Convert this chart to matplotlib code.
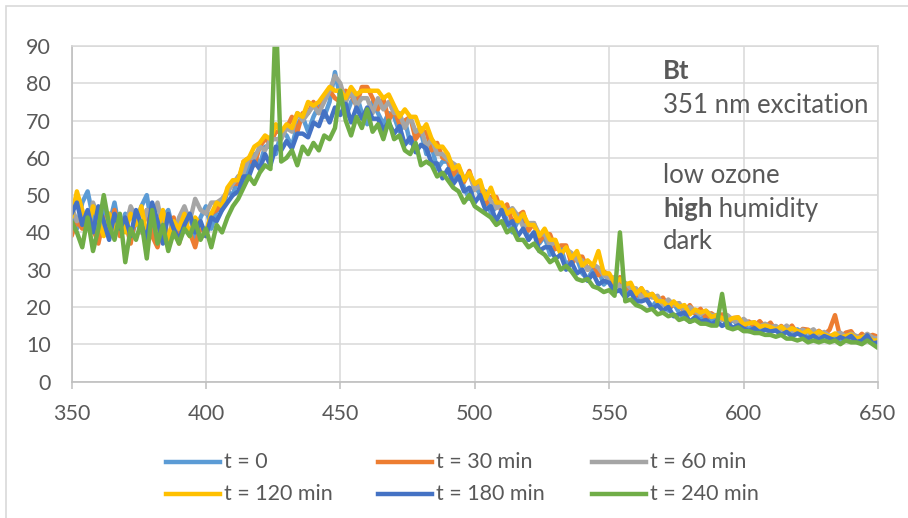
import numpy as np
import matplotlib
matplotlib.use("Agg")
import matplotlib.pyplot as plt
from matplotlib.lines import Line2D
from matplotlib.patches import Rectangle

plt.rcParams['font.family'] = ['Lato', 'DejaVu Sans']

# wavelength grid (nm), 2 nm steps from 350 to 650
wavelength = np.arange(350, 651, 2)

t0 = [46, 41, 48, 51, 44, 39, 46, 42, 48, 40,
      45, 38, 43, 47, 50, 41, 37, 44, 46, 40,
      39, 43, 45, 38, 44, 47, 41, 46, 46, 51,
      50, 55, 53, 58, 61, 58, 63, 63, 61, 67,
      66, 63, 69, 71, 67, 71, 74, 71, 75, 83,
      76, 71, 75, 77, 72, 69, 75, 72, 69, 72,
      71, 67, 70, 64, 66, 67, 61, 63, 57, 59,
      59, 54, 57, 52, 49, 53, 50, 51, 45, 47,
      47, 43, 40, 43, 44, 38, 40, 37, 39, 34,
      36, 36, 31, 33, 33, 29, 27.5, 30, 30, 26,
      27.5, 25, 27, 23.5, 25, 21, 23.5, 22, 20, 22,
      21.5, 19, 21, 18.5, 17, 19, 18.3, 16.5, 18, 16.3,
      17, 17.2, 15, 16.7, 14.9, 15.5, 13.8, 15.6, 13.9, 14.7,
      13.5, 14.8, 13.1, 13.9, 12.2, 14, 12.8, 11.8, 13.2, 11.5,
      13, 11.5, 12.5, 10.9, 13, 11.2, 12, 10.6, 12, 12.2,
      11.5]

t30 = [39, 43, 41, 45, 41, 37, 44, 40, 46, 39,
       43, 37, 45, 40, 46, 39, 36, 43, 38, 44,
       37, 43, 40, 36, 42, 39, 45, 46, 48, 51,
       53, 53, 59, 60, 58, 63, 65, 64, 67, 67,
       68, 71, 67, 72, 72, 75, 72, 76, 78, 76,
       75, 78, 77, 74, 79, 79, 76, 73, 76, 70,
       73, 69, 70, 71, 65, 67, 67, 62, 64, 60,
       59.5, 55.5, 57.5, 53.5, 56.5, 51.5, 53.5, 47.5, 49.5, 49.5,
       45.5, 47.5, 42.5, 44.5, 45.5, 40.5, 42.5, 37.5, 39.5, 39.5,
       35.5, 36.5, 36.5, 31.5, 33.5, 33.5, 30, 31.5, 28.5, 29.5,
       28.5, 26, 28, 24.5, 26, 23, 25, 22, 23.5, 21.5,
       22.5, 20, 20.5, 21, 18.5, 20.5, 18.3, 19.5, 17, 18.3,
       17.3, 18, 15.8, 17, 17.2, 14.8, 16.1, 14.9, 16.2, 14.5,
       15.8, 13.6, 14.9, 13.7, 15, 12.8, 14.1, 13.9, 12.2, 13.6,
       12.5, 13.9, 17.8, 11.7, 13.1, 13.5, 11.4, 12.8, 11.7, 12.5,
       12]

t60 = [47, 43, 45, 41, 48, 44, 40, 45, 41, 44,
       41, 47, 44, 40, 46, 43, 48, 41, 45, 39,
       44, 47, 43, 49, 46, 45, 48, 48, 49, 51,
       53, 55, 56, 60, 60, 63, 62, 65, 65, 65,
       68, 67, 72, 70, 72, 74, 72, 75, 78, 82,
       80, 75, 78, 74, 76, 76, 72, 76, 73, 75,
       72, 72, 68, 71, 67, 68, 63, 65, 61, 61,
       59.5, 58.5, 57.5, 54.5, 55.5, 51.5, 52.5, 50.5, 48.5, 46.5,
       47.5, 45.5, 46.5, 44.5, 41.5, 42.5, 42.5, 39.5, 39.5, 36.5,
       37.5, 34.5, 35.5, 34.5, 32.5, 32.5, 30, 31.5, 30.5, 28.5,
       27.5, 28, 25, 26.5, 25, 25, 22.5, 24, 22.5, 23,
       20.5, 22, 20.5, 21, 19, 20, 18.8, 18, 19, 17.8,
       17.8, 16.5, 17.8, 16.5, 15.7, 16.8, 15.6, 15.9, 14.7, 15.5,
       14.6, 14.9, 13.7, 15, 13.8, 13.1, 13.9, 13.2, 14, 12.4,
       13.3, 12.2, 12.6, 13.1, 12, 12.8, 12.2, 11.6, 12.8, 11.8,
       11.5]

t120 = [44, 51, 46, 41, 47, 43, 39, 45, 41, 44,
        40, 45, 42, 47, 39, 44, 41, 46, 38, 43,
        41, 45, 39, 44, 42, 40, 45, 48, 47, 52,
        54, 54, 59, 60, 63, 64, 66, 65, 69, 67,
        69, 68, 72, 71, 75, 74, 75, 77, 79, 78,
        78, 76, 79, 77, 78, 78, 78, 78, 76, 77,
        74, 71, 73, 71, 71, 67, 69, 65, 63, 63,
        61, 57, 58, 54, 56, 53, 54, 49, 52, 48,
        48, 45, 46, 43, 45, 42, 42, 39, 41, 38,
        38, 34, 36, 33, 35, 31, 32.5, 31, 35, 29,
        29, 26.5, 27.5, 26, 26.5, 23.5, 25, 23, 23.5, 21.5,
        21.5, 20, 21.5, 20, 20.5, 18, 19.3, 18.5, 19, 17.3,
        17.8, 17, 16.3, 17, 17.2, 15.3, 15.6, 15.9, 14.7, 15,
        14.6, 13.9, 14.7, 13.5, 14.3, 13.6, 12.9, 13.7, 12.5, 13.4,
        12.6, 12, 12.9, 11.8, 12.2, 12.6, 11.5, 11.9, 12.2, 11,
        11]

t180 = [45, 48, 42, 46, 40, 47, 43, 38, 45, 41,
        44, 39, 46, 42, 38, 48, 43, 37, 45, 41,
        38, 42, 45, 40, 43, 39, 44, 43, 46, 48,
        50, 51, 55, 55, 59, 57, 61, 58, 63, 62,
        64.5, 62.5, 66.5, 66.5, 65.5, 69.5, 68.5, 72.5, 69.5, 73.5,
        71.5, 74.5, 69.5, 73.5, 70.5, 73.5, 70.5, 70.5, 67.5, 69.5,
        66.5, 68.5, 63.5, 65.5, 61.5, 63.5, 62.5, 58.5, 58.5, 54.5,
        57, 53, 55, 51, 52, 48, 50, 46, 47, 43,
        46, 42, 43, 39, 41, 38, 40, 35, 36, 36,
        33, 34, 30, 32, 29, 30, 27, 29, 26, 27,
        26.5, 24, 24.5, 22.5, 24, 21.5, 21.5, 22, 19.5, 20.5,
        19, 20, 17.5, 18, 18.5, 16, 17.3, 16, 16.5, 15.3,
        16.2, 14.9, 15.7, 14.4, 15.1, 14.2, 13.5, 14.3, 13.1, 13.9,
        13.4, 13.7, 12.5, 13.3, 12.1, 12.9, 12.2, 11.5, 12.3, 11.2,
        12.2, 11.6, 11, 11.9, 11.3, 12.2, 10.6, 11, 12.4, 10.2,
        10.5]

t240 = [43, 40, 36, 44, 35, 41, 50, 42, 38, 45,
        32, 41, 38, 43, 33, 46, 37, 42, 35, 40,
        37, 41, 39, 43, 38, 41, 36, 42, 40, 44,
        47, 49, 52, 55, 53, 56, 58, 57, 99, 59,
        60, 62, 58, 63, 61, 64, 62, 66, 65, 68,
        78, 70, 66, 71, 68, 73, 67, 69, 65, 70,
        65, 66, 62, 61, 64, 58, 59, 58, 55, 56,
        54, 52, 51, 48, 50, 47, 46, 45, 44, 42,
        43, 40, 41, 38, 38, 36, 37, 35, 34, 32,
        33, 30, 31, 29.5, 27.5, 27, 27.5, 25.5, 25, 24,
        24.5, 23, 40, 21.5, 22, 20.5, 20, 19, 19.5, 18,
        18.5, 17.5, 18, 16.5, 17, 16, 16.5, 15.5, 15.5, 15,
        15, 23.5, 14.5, 14, 14.5, 13.5, 13.5, 13, 13, 12.5,
        12.5, 12, 12.5, 11.5, 11.5, 11, 11.5, 10.5, 11, 10.5,
        11, 10.5, 11, 10, 11, 10.5, 10.5, 10, 11, 10,
        9]

series = [t0, t30, t60, t120, t180, t240]
labels = ["t = 0", "t = 30 min", "t = 60 min", "t = 120 min", "t = 180 min", "t = 240 min"]
colors = ["#5B9BD5", "#ED7D31", "#A5A5A5", "#FFC000", "#4472C4", "#70AD47"]

xticks = [350, 400, 450, 500, 550, 600, 650]
yticks = [0, 10, 20, 30, 40, 50, 60, 70, 80, 90]

W, H = 908, 518
fig = plt.figure(figsize=(W / 100, H / 100), dpi=100)
fig.patch.set_facecolor("white")

def fx(px):
    return px / W

def fy(py):
    return 1 - py / H

ax = fig.add_axes([fx(71.5), fy(381.5), fx(878) - fx(71.5), fy(46) - fy(381.5)])

lines = []
for vals, lab, col in zip(series, labels, colors):
    ln, = ax.plot(wavelength, vals, color=col, lw=3.2, label=lab,
                  solid_joinstyle="round", solid_capstyle="round")
    lines.append(ln)

ax.set_xlim(350, 650)
ax.set_ylim(0, 90)
ax.set_xticks(xticks)
ax.set_yticks(yticks)
ax.grid(True, color="#D9D9D9", lw=1.1)
ax.set_axisbelow(True)
for s in ["top", "right"]:
    ax.spines[s].set_color("#D9D9D9")
    ax.spines[s].set_linewidth(1.1)
for s in ["left", "bottom"]:
    ax.spines[s].set_color("#BFBFBF")
    ax.spines[s].set_linewidth(1.2)
ax.tick_params(axis="x", length=5, width=1.1, color="#BFBFBF", labelsize=15.5,
               labelcolor="#595959", pad=11)
ax.tick_params(axis="y", length=0, labelsize=15.5, labelcolor="#595959", pad=15)

# annotation text block
tc = "#595959"
fs = 18.5
x0 = fx(663)
fig.text(x0, fy(79), "Bt", fontsize=fs, fontweight="bold", color=tc, va="baseline")
fig.text(x0, fy(113), "351 nm excitation", fontsize=fs, color=tc, va="baseline")
fig.text(x0, fy(183), "low ozone", fontsize=fs, color=tc, va="baseline")
th = fig.text(x0, fy(217), "high", fontsize=fs, fontweight="bold", color=tc, va="baseline")
fig.text(x0, fy(249), "dark", fontsize=fs, color=tc, va="baseline")
fig.canvas.draw()
bb = th.get_window_extent()
fig.text(bb.x1 / W, fy(217), " humidity", fontsize=fs, color=tc, va="baseline")

# legend (3 columns x 2 rows)
col_x = [166, 378, 592]
row_y = [462, 494]
for i, (ln, lab) in enumerate(zip(lines, labels)):
    r, c = divmod(i, 3)
    xs = col_x[c]
    yy = fy(row_y[r])
    fig.add_artist(Line2D([fx(xs), fx(xs + 54)], [yy, yy], color=ln.get_color(), lw=3.2,
                          transform=fig.transFigure))
    fig.text(fx(xs + 58), yy, lab, fontsize=15.5, color=tc, va="center", ha="left")

# outer chart border
fig.add_artist(Rectangle((fx(6), fy(560)), fx(960), fy(6) - fy(560), transform=fig.transFigure,
                         fill=False, edgecolor="#D9D9D9", lw=1.2))

fig.savefig("out.png", dpi=100, facecolor="white")
